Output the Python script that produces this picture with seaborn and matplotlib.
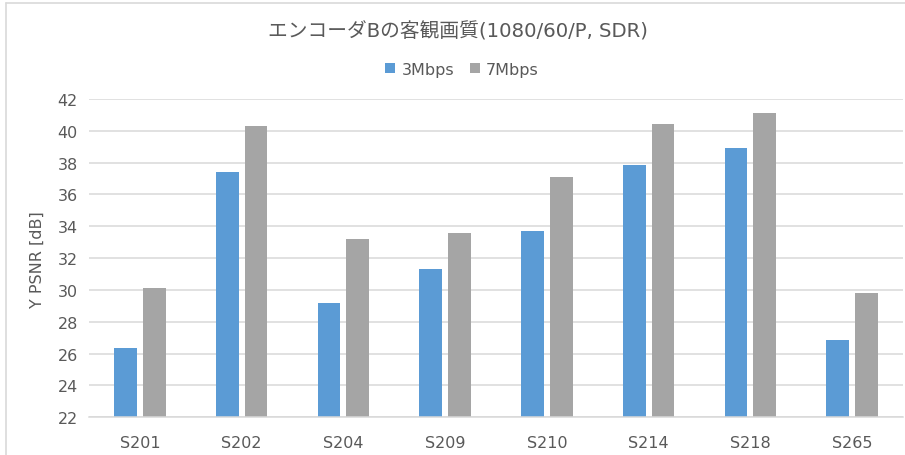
import matplotlib
matplotlib.use("Agg")
import matplotlib.pyplot as plt
import seaborn as sns
import pandas as pd
from matplotlib.lines import Line2D
from matplotlib.patches import Patch

categories = ["S201", "S202", "S204", "S209", "S210", "S214", "S218", "S265"]
psnr_3mbps = [26.33, 37.41, 29.16, 31.30, 33.70, 37.85, 38.92, 26.84]
psnr_7mbps = [30.10, 40.32, 33.18, 33.56, 37.09, 40.40, 41.10, 29.81]
series_names = ["3Mbps", "7Mbps"]
yticks = list(range(22, 43, 2))

df = pd.DataFrame({
    "sequence": categories * 2,
    "rate": [series_names[0]] * len(categories) + [series_names[1]] * len(categories),
    "psnr": psnr_3mbps + psnr_7mbps,
})

sns.set_theme(style="white")
plt.rcParams["font.family"] = ["DejaVu Sans", "Noto Sans CJK JP"]

TXT = "#595959"
GRID = "#D9D9D9"
colors = {"3Mbps": "#5B9BD5", "7Mbps": "#A5A5A5"}

fig = plt.figure(figsize=(9.05, 4.56), dpi=100)
ax = fig.add_axes([89 / 905, 1 - 418.3 / 456, (903 - 89) / 905, (418.3 - 100) / 456])

sns.barplot(data=df, x="sequence", y="psnr", hue="rate", palette=colors,
            width=0.565, gap=0.21, ax=ax, legend=False, saturation=1,
            linewidth=0, err_kws={"linewidth": 0})

ax.set_ylim(22, 42)
ax.set_yticks(yticks)
ax.set_xlim(-0.5, len(categories) - 0.5)
ax.yaxis.grid(True, color=GRID, linewidth=1.1)
ax.set_axisbelow(True)
for s in ["top", "right", "left"]:
    ax.spines[s].set_visible(False)
ax.spines["bottom"].set_color(GRID)
ax.spines["bottom"].set_linewidth(1.1)
ax.tick_params(axis="both", length=0, colors=TXT, labelsize=11.5)
ax.tick_params(axis="x", pad=13)
ax.tick_params(axis="y", pad=8)
ax.set_xlabel("")
ax.set_ylabel("Y PSNR [dB]", color=TXT, fontsize=11.5)
ax.yaxis.set_label_coords(-0.054, 0.5)

fig.text(458 / 905, 1 - 32 / 456, "エンコーダBの客観画質(1080/60/P, SDR)",
         ha="center", va="center", fontsize=14.2, color=TXT)

handles = [Patch(facecolor=colors[n], edgecolor="none", label=n) for n in series_names]
fig.legend(handles=handles, loc="center", bbox_to_anchor=(462 / 905, 1 - 70 / 456),
           ncol=2, frameon=False, fontsize=11.5, labelcolor=TXT,
           handlelength=0.6, handleheight=0.6, handletextpad=0.4, columnspacing=1.0)

fig.add_artist(Line2D([6 / 905, 1.0], [1 - 4 / 456, 1 - 4 / 456], color=GRID, linewidth=1.2, transform=fig.transFigure))
fig.add_artist(Line2D([6 / 905, 6 / 905], [0.0, 1 - 4 / 456], color=GRID, linewidth=1.2, transform=fig.transFigure))

fig.savefig("out.png", dpi=100)
